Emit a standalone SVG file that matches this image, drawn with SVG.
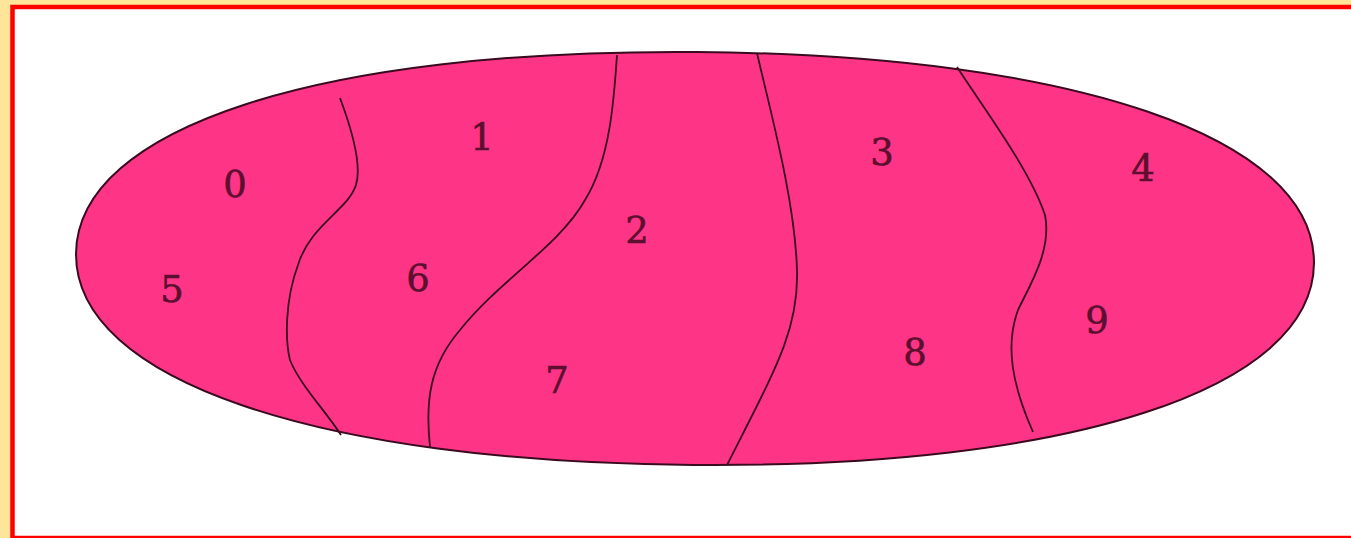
<svg xmlns="http://www.w3.org/2000/svg" width="1351" height="538" viewBox="0 0 1351 538">
<style>
.lbl{font-family:"DejaVu Serif","Liberation Serif",serif;font-size:37px;fill:#5c0f2e;stroke:#5c0f2e;stroke-width:0.6;text-anchor:middle}
.div{fill:none;stroke:#3a0a1f;stroke-width:1.8}
</style>
<rect x="0" y="0" width="1351" height="538" fill="#FFE599"/>
<rect x="12.5" y="7" width="1400" height="531" fill="#ffffff" stroke="#ff0000" stroke-width="4.5"/>
<g id="body">
<path d="M1314,258.5 C1314,384.5 1072.6,465 695,465 C317.4,465 76,384.5 76,258.5 C76,132.5 317.4,52 695,52 C1072.6,52 1314,132.5 1314,258.5 Z" transform="rotate(0.45 695 258.5)" fill="#FE3587" stroke="#3a0a1f" stroke-width="2"/>
</g>
<g id="connectors">
<path class="div" d="M340,98 C352,130 362,165 356,185 C348,210 310,225 298,265 C285,300 285,340 290,360 C300,385 325,410 341,435"/>
<path class="div" d="M617,55 C614,100 610,160 585,200 C560,245 500,280 460,330 C430,365 425,400 430,447"/>
<path class="div" d="M757,53 C770,110 795,200 797,270 C799,330 775,370 727,465"/>
<path class="div" d="M957,67 C985,110 1030,170 1045,215 C1052,250 1030,285 1018,310 C1005,345 1012,385 1033,432"/>
</g>
<g id="n0"><text class="lbl" x="235" y="197">0</text></g>
<g id="n1"><text class="lbl" x="482" y="150">1</text></g>
<g id="n2"><text class="lbl" x="637" y="243">2</text></g>
<g id="n3"><text class="lbl" x="882" y="165">3</text></g>
<g id="n4"><text class="lbl" x="1143" y="181">4</text></g>
<g id="n5"><text class="lbl" x="172" y="302">5</text></g>
<g id="n6"><text class="lbl" x="418" y="291">6</text></g>
<g id="n7"><text class="lbl" x="557" y="393">7</text></g>
<g id="n8"><text class="lbl" x="915" y="365">8</text></g>
<g id="n9"><text class="lbl" x="1097" y="333">9</text></g>
</svg>
